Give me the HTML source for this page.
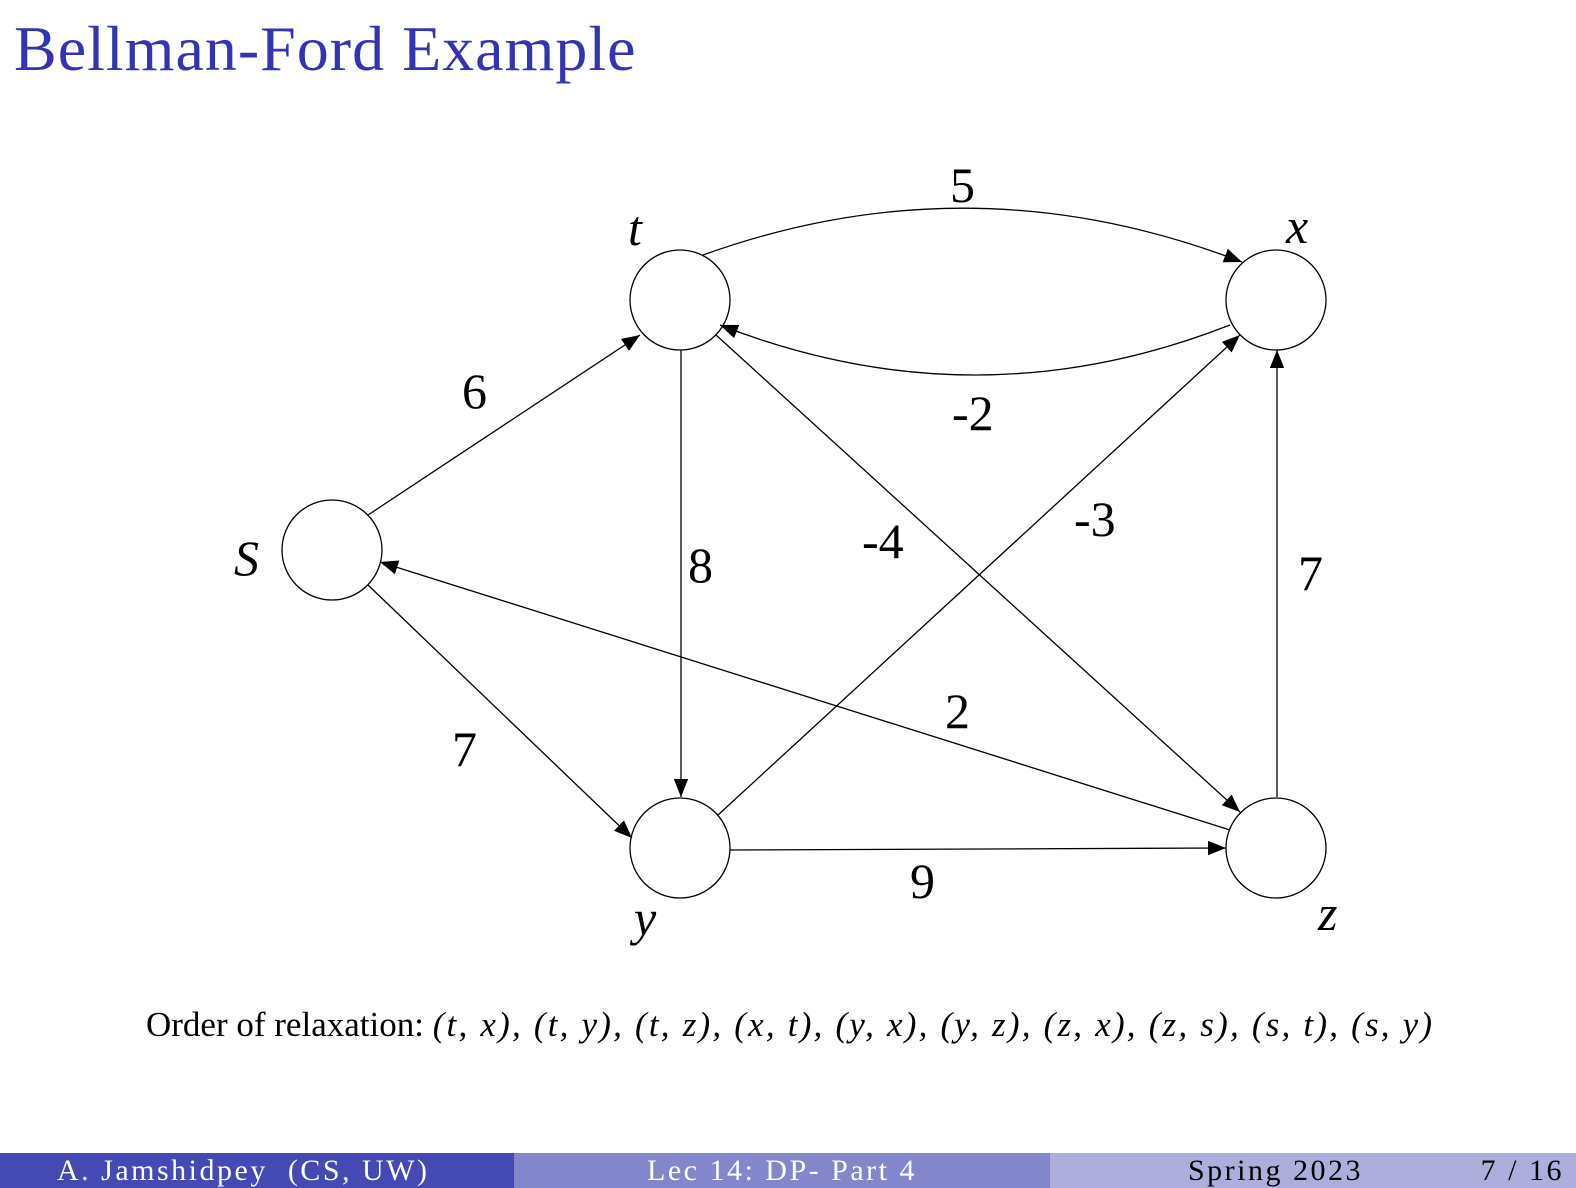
<!DOCTYPE html>
<html><head><meta charset="utf-8"><style>
body{margin:0;width:1576px;height:1188px;background:#fff;position:relative;overflow:hidden;font-family:"Liberation Serif",serif}
.ft{position:absolute;top:1153px;height:35px;font-size:30px;line-height:35px;letter-spacing:2.5px}
</style></head><body>
<div style="position:absolute;left:14px;top:12px;font-size:64px;color:#3333b3;letter-spacing:1px">Bellman-Ford Example</div>
<svg width="1576" height="1188" style="position:absolute;left:0;top:0">
<defs><marker id="a" viewBox="0 0 10 10" refX="10" refY="5" markerWidth="18" markerHeight="18" markerUnits="userSpaceOnUse" orient="auto"><path d="M0,1 L10,5 L0,9 z" fill="#000"/></marker></defs>
<g stroke="#000" stroke-width="1.3" fill="none">
<circle cx="680" cy="300" r="50"/><circle cx="1276" cy="300" r="50"/>
<circle cx="332" cy="550" r="50"/><circle cx="680" cy="848" r="50"/><circle cx="1276" cy="848" r="50"/>
<path d="M703,255 Q972,158 1242,262" marker-end="url(#a)"/>
<path d="M1230,325 Q975,425 720,325" marker-end="url(#a)"/>
<path d="M368,515 L640,335" marker-end="url(#a)"/>
<path d="M681,350 L681,797" marker-end="url(#a)"/>
<path d="M716,335 L1240,812" marker-end="url(#a)"/>
<path d="M718,815 L1240,335" marker-end="url(#a)"/>
<path d="M1277,797 L1277,350" marker-end="url(#a)"/>
<path d="M1230,830 L380,562" marker-end="url(#a)"/>
<path d="M368,585 L632,838" marker-end="url(#a)"/>
<path d="M730,850 L1226,848" marker-end="url(#a)"/>
</g>
<g font-family="Liberation Serif,serif" font-size="50" fill="#000">
<text x="950" y="202">5</text><text x="952" y="430">-2</text>
<text x="462" y="408">6</text><text x="688" y="582">8</text>
<text x="862" y="558">-4</text><text x="1074" y="536">-3</text>
<text x="1298" y="590">7</text><text x="945" y="728">2</text>
<text x="452" y="766">7</text><text x="910" y="898">9</text>
<g font-style="italic"><text x="628" y="245">t</text><text x="1286" y="243">x</text>
<text x="234" y="575">S</text><text x="634" y="935">y</text><text x="1318" y="930">z</text></g>
</g>
<text x="146" y="1036" font-family="Liberation Serif,serif" font-size="35" fill="#000">Order of relaxation: <tspan font-style="italic" letter-spacing="2.2">(t, x), (t, y), (t, z), (x, t), (y, x), (y, z), (z, x), (z, s), (s, t), (s, y)</tspan></text>
</svg>
<div class="ft" style="left:0;width:514px;background:#4549b4;color:#fff"><span style="position:absolute;left:57px">A. Jamshidpey &nbsp;(CS, UW)</span></div>
<div class="ft" style="left:514px;width:536px;background:#8386cb;color:#fff;text-align:center">Lec 14: DP- Part 4</div>
<div class="ft" style="left:1050px;width:526px;background:#adaedc;color:#000"><span style="position:absolute;left:138px">Spring 2023</span><span style="position:absolute;right:12px">7 / 16</span></div>
</body></html>
